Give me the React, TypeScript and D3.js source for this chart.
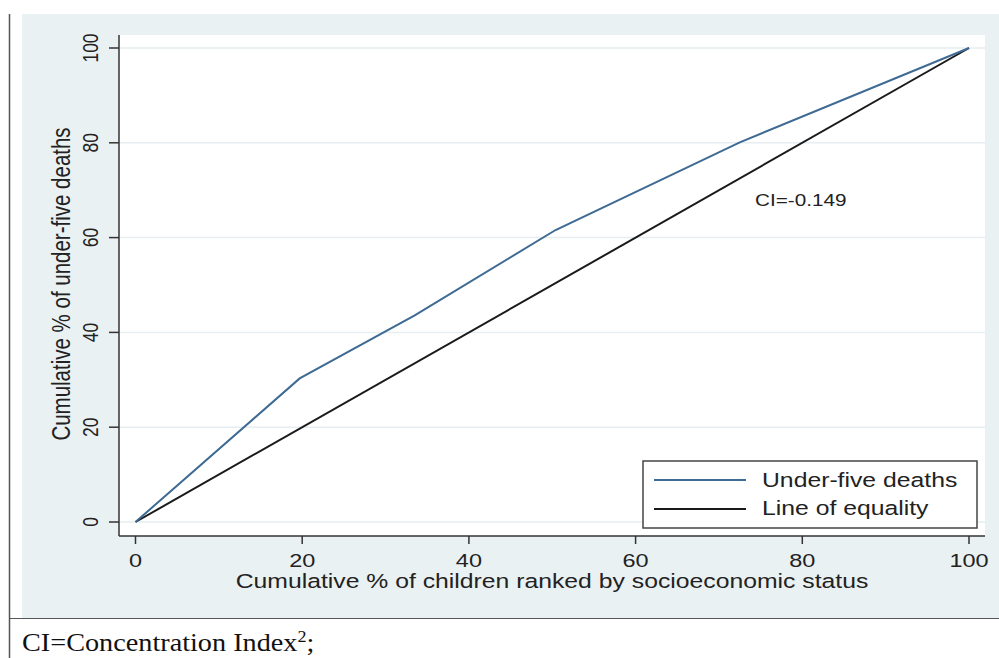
import React from "react";
import * as d3 from "d3";

const xValues = [0, 19.7, 33.5, 50.4, 72.5, 100];
const deaths = [0, 30.3, 43.6, 61.6, 80.1, 100];
const equalityX = [0, 100];
const equalityY = [0, 100];
const xTicks = [0, 20, 40, 60, 80, 100];
const yTicks = [0, 20, 40, 60, 80, 100];
const legendLabels = ["Under-five deaths", "Line of equality"];
const ciLabel = "CI=-0.149";
const footnote = "CI=Concentration Index";

const W = 999;
const H = 658;
const plotL = 119, plotR = 985, plotT = 35, plotB = 536;
const blue = "#3e6a93";
const black = "#1a1a1a";
const SX = 1.27;

export default function App() {
  const x = d3.scaleLinear().domain([0, 100]).range([135.5, 969]);
  const y = d3.scaleLinear().domain([0, 100]).range([522, 48]);
  const line = d3.line<[number, number]>().x(d => x(d[0])).y(d => y(d[1]));
  const deathPts: [number, number][] = xValues.map((v, i) => [v, deaths[i]]);
  const eqPts: [number, number][] = equalityX.map((v, i) => [v, equalityY[i]]);
  const sans = "'Liberation Sans', Arial, sans-serif";
  const T = (tx: number, ty: number, rot = 0) =>
    `translate(${tx},${ty}) scale(${SX},1)` + (rot ? ` rotate(${rot})` : "");
  return (
    <svg width={W} height={H} style={{ position: "absolute", left: 0, top: 0 }}>
      <rect x={0} y={0} width={W} height={H} fill="#fff" />
      <rect x={22} y={14} width={W - 22} height={604} fill="#eaf1f3" />
      <line x1={9.5} y1={14} x2={9.5} y2={H} stroke="#555" strokeWidth={1.5} />
      <line x1={9.5} y1={618.5} x2={W} y2={618.5} stroke="#555" strokeWidth={1.2} />
      <rect x={plotL} y={plotT} width={plotR - plotL} height={plotB - plotT} fill="#fff" />
      {yTicks.map(t => (
        <line key={"g" + t} x1={plotL} x2={plotR} y1={y(t)} y2={y(t)} stroke="#e6eef1" strokeWidth={1.5} />
      ))}
      <line x1={plotL} y1={plotT} x2={plotL} y2={plotB} stroke="#333" strokeWidth={1.5} />
      <line x1={plotL} y1={plotB} x2={plotR} y2={plotB} stroke="#333" strokeWidth={1.5} />
      {yTicks.map(t => (
        <g key={"y" + t}>
          <line x1={plotL - 10} x2={plotL} y1={y(t)} y2={y(t)} stroke="#333" strokeWidth={1.5} />
          <text
            transform={T(98, y(t), -90)}
            textAnchor="middle"
            fontFamily={sans}
            fontSize={17.5}
            fill="#222"
          >
            {t}
          </text>
        </g>
      ))}
      {xTicks.map(t => (
        <g key={"x" + t}>
          <line x1={x(t)} x2={x(t)} y1={plotB} y2={plotB + 8} stroke="#333" strokeWidth={1.5} />
          <text transform={T(x(t), 567)} textAnchor="middle" fontFamily={sans} fontSize={18.5} fill="#222">
            {t}
          </text>
        </g>
      ))}
      <text transform={T(552, 588)} textAnchor="middle" fontFamily={sans} fontSize={19.5} fill="#222">
        Cumulative % of children ranked by socioeconomic status
      </text>
      <text
        transform={T(70, 284, -90)}
        textAnchor="middle"
        fontFamily={sans}
        fontSize={20.5}
        fill="#222"
      >
        Cumulative % of under-five deaths
      </text>
      <path d={line(eqPts) || ""} fill="none" stroke={black} strokeWidth={2} />
      <path d={line(deathPts) || ""} fill="none" stroke={blue} strokeWidth={2} />
      <text transform={T(755, 206)} fontFamily={sans} fontSize={16.3} fill="#222">
        {ciLabel}
      </text>
      <rect x={643} y={461} width={334} height={67} fill="#fff" stroke="#444" strokeWidth={1.5} />
      <line x1={654} x2={746} y1={480} y2={480} stroke={blue} strokeWidth={2} />
      <line x1={654} x2={746} y1={509} y2={509} stroke={black} strokeWidth={2} />
      <text transform={T(762, 487)} fontFamily={sans} fontSize={19.5} fill="#222">
        {legendLabels[0]}
      </text>
      <text transform={T(762, 515)} fontFamily={sans} fontSize={19.5} fill="#222">
        {legendLabels[1]}
      </text>
      <text
        transform="translate(22,651) scale(1.13,1)"
        fontFamily="'Liberation Serif', 'DejaVu Serif', serif"
        fontSize={25}
        fill="#111"
      >
        {footnote}
        <tspan fontSize={16} dy={-9}>2</tspan>
        <tspan dy={9}>;</tspan>
      </text>
    </svg>
  );
}
